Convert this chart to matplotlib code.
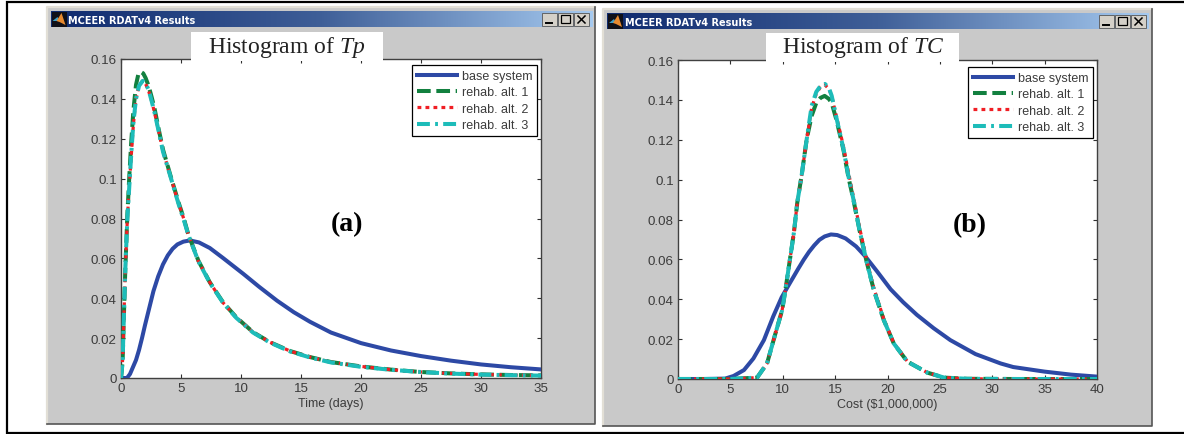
import numpy as np
import matplotlib
matplotlib.use('Agg')
import matplotlib.pyplot as plt
from matplotlib.patches import Rectangle, Polygon

plt.rcParams['font.family'] = ['Liberation Sans', 'DejaVu Sans']
plt.rcParams['mathtext.fontset'] = 'custom'
plt.rcParams['mathtext.rm'] = 'Liberation Serif'
plt.rcParams['mathtext.it'] = 'Liberation Serif:italic'

# values
labels = ['base system', 'rehab. alt. 1', 'rehab. alt. 2', 'rehab. alt. 3']
window_title = 'MCEER RDATv4 Results'

# panel (a), time
tp_base_x = [0, 0.5, 0.75, 1, 1.25, 1.5, 1.75, 2, 2.35, 2.7, 3.1, 3.5, 3.9, 4.3, 4.7, 5.2, 5.75, 6.5,
             7.4, 8.5, 10.2, 11.5, 13, 14.4, 15.75, 17.5, 20, 22.5, 25, 27.5, 30, 32.5, 35]
tp_base_y = [0, 0, 0.002, 0.0055, 0.009, 0.014, 0.02, 0.0265, 0.035, 0.0435, 0.051, 0.057, 0.0615, 0.0648,
             0.067, 0.0684, 0.069, 0.068, 0.0652, 0.0602, 0.0522, 0.0458, 0.0388, 0.033, 0.0282, 0.0228,
             0.0175, 0.0138, 0.011, 0.0087, 0.0068, 0.0054, 0.0043]
tp_alt1_x = [0, 0.07, 0.14, 0.25, 0.36, 0.53, 0.7, 0.85, 1.03, 1.25, 1.45, 1.64, 1.85, 2.05, 2.3, 2.55, 2.8,
             3.15, 3.5, 4.1, 4.8, 5.25, 5.6, 6.45, 7.4, 8.5, 9.6, 11, 12.4, 14.1, 15.75, 17.5, 20, 22.5, 25,
             27.5, 30, 32.5, 35]
tp_alt1_y = [0, 0.004, 0.0097, 0.033, 0.0547, 0.082, 0.102, 0.118, 0.134, 0.147, 0.1525, 0.1536, 0.1528, 0.1505,
             0.1465, 0.141, 0.135, 0.1245, 0.1146, 0.102, 0.088, 0.0797, 0.0722, 0.0588, 0.048, 0.038, 0.0305,
             0.023, 0.018, 0.0135, 0.0105, 0.008, 0.0058, 0.0042, 0.003, 0.0023, 0.0018, 0.0015, 0.0013]
tp_alt2_x = [0, 0.07, 0.14, 0.25, 0.36, 0.53, 0.7, 0.85, 1.03, 1.25, 1.5, 1.8, 2.05, 2.3, 2.55, 2.8,
             3.15, 3.5, 4.1, 4.8, 5.25, 5.6, 6.45, 7.4, 8.5, 9.6, 11, 12.4, 14.1, 15.75, 17.5, 20, 22.5, 25,
             27.5, 30, 32.5, 35]
tp_alt2_y = [0, 0.004, 0.0095, 0.032, 0.054, 0.08, 0.097, 0.111, 0.127, 0.14, 0.1465, 0.149, 0.1475,
             0.144, 0.139, 0.133, 0.1235, 0.114, 0.1015, 0.0875, 0.0795, 0.072, 0.0585, 0.048, 0.0378, 0.0305,
             0.023, 0.018, 0.0135, 0.0105, 0.008, 0.0058, 0.0042, 0.003, 0.0023, 0.0018, 0.0015, 0.0012]
tp_alt3_x = [0, 0.07, 0.14, 0.25, 0.36, 0.53, 0.7, 0.85, 1.03, 1.25, 1.5, 1.8, 2.05, 2.3, 2.55, 2.8,
             3.15, 3.5, 4.1, 4.8, 5.25, 5.6, 6.45, 7.4, 8.5, 9.6, 11, 12.4, 14.1, 15.75, 17.5, 20, 22.5, 25,
             27.5, 30, 32.5, 35]
tp_alt3_y = [0, 0.004, 0.0097, 0.033, 0.055, 0.08, 0.097, 0.112, 0.128, 0.14, 0.1465, 0.149, 0.1478,
             0.1445, 0.139, 0.133, 0.1235, 0.1135, 0.1015, 0.0872, 0.079, 0.072, 0.0585, 0.0478, 0.0378, 0.0302,
             0.0228, 0.0178, 0.0133, 0.0103, 0.0078, 0.0056, 0.0041, 0.003, 0.0022, 0.0017, 0.0014, 0.0012]

# panel (b), cost
tc_base_x = [0, 2.5, 4.5, 5.3, 6.3, 7.2, 8.2, 9.1, 9.9, 10.5, 11, 11.5, 12, 12.5, 13, 13.5, 14, 14.6, 15.2,
             16, 17, 17.85, 19, 20.3, 21.5, 22.8, 24.4, 26, 28.4, 30.8, 32, 35, 37.5, 40]
tc_base_y = [0, 0, 0.0002, 0.0015, 0.0045, 0.0103, 0.0195, 0.0315, 0.041, 0.0465, 0.051, 0.0555, 0.0598, 0.0637,
             0.067, 0.0698, 0.0715, 0.0725, 0.0722, 0.0705, 0.0665, 0.0617, 0.054, 0.045, 0.0385, 0.0322,
             0.0255, 0.0195, 0.0125, 0.0078, 0.006, 0.0037, 0.0022, 0.0012]
tc_alt1_x = [0, 5, 7.55, 8.5, 9.3, 9.94, 10.25, 11.07, 11.39, 11.8, 12.29, 12.76, 13.2, 13.6, 14, 14.4, 14.67,
             15.15, 15.8, 16.26, 16.74, 17.37, 18, 18.7, 19.65, 20.6, 21.9, 23.8, 25.4, 27.6, 32, 40]
tc_alt1_y = [0, 0, 0.0007, 0.0078, 0.0228, 0.0345, 0.0445, 0.0736, 0.0886, 0.102, 0.1204, 0.132, 0.1385, 0.141,
             0.142, 0.1405, 0.1385, 0.1295, 0.1148, 0.1015, 0.09, 0.0736, 0.059, 0.0445, 0.0295, 0.0178, 0.0087,
             0.0032, 0.0007, 0.0001, 0, 0]
tc_alt2_x = [0, 5, 7.55, 8.5, 9.3, 9.94, 10.25, 11.07, 11.39, 11.8, 12.29, 12.76, 13.2, 13.6, 14.03, 14.4, 14.67,
             15.15, 15.8, 16.26, 16.74, 17.37, 18, 18.7, 19.65, 20.6, 21.9, 23.8, 25.4, 27.6, 32, 40]
tc_alt2_y = [0, 0, 0.0007, 0.0078, 0.0228, 0.0345, 0.0445, 0.0736, 0.0886, 0.102, 0.1204, 0.136, 0.143, 0.1465,
             0.1475, 0.1455, 0.142, 0.1312, 0.1165, 0.104, 0.0915, 0.075, 0.06, 0.0455, 0.03, 0.018, 0.0088,
             0.0032, 0.0007, 0.0001, 0, 0]
tc_alt3_x = [0, 5, 7.55, 8.5, 9.3, 9.94, 10.25, 11.07, 11.39, 11.8, 12.29, 12.76, 13.2, 13.6, 14.03, 14.4, 14.67,
             15.15, 15.8, 16.26, 16.74, 17.37, 18, 18.7, 19.65, 20.6, 21.9, 23.8, 25.4, 27.6, 32, 40]
tc_alt3_y = [0, 0, 0.0007, 0.0078, 0.0228, 0.0345, 0.0445, 0.0736, 0.0886, 0.102, 0.1204, 0.137, 0.144, 0.147,
             0.148, 0.146, 0.1421, 0.1304, 0.1153, 0.102, 0.0903, 0.0736, 0.059, 0.0445, 0.0295, 0.0178, 0.0087,
             0.0032, 0.0007, 0.0001, 0, 0]

y_ticks = [0, 0.02, 0.04, 0.06, 0.08, 0.1, 0.12, 0.14, 0.16]
y_ticklabels = ['0', '0.02', '0.04', '0.06', '0.08', '0.1', '0.12', '0.14', '0.16']

W, H = 1184, 435
fig = plt.figure(figsize=(W / 100, H / 100), dpi=100, facecolor='white')

def pixel_axes(x0, y0, x1, y1, z):
    return fig.add_axes([x0 / W, 1 - y1 / H, (x1 - x0) / W, (y1 - y0) / H], zorder=z)

# background: page frame and the two windows, in pixels
bg = pixel_axes(0, 0, W, H, 0)
bg.set_xlim(0, W)
bg.set_ylim(H, 0)
bg.axis('off')
bg.plot([W, 6.5, 6.5, W], [3, 3, 434, 434], color='black', lw=1.6, solid_joinstyle='miter')

grad = np.linspace(0, 1, 256).reshape(1, -1)
bar_cmap = matplotlib.colors.LinearSegmentedColormap.from_list('bar', ['#0f2a6e', '#3f5f98', '#a6caf0'])

def draw_window(x0, y0, x1, y1):
    bg.add_patch(Rectangle((x0, y0), x1 - x0, y1 - y0, fc='#c9c9c9', ec='none'))
    bg.plot([x0, x0, x1], [y1, y0, y0], color='#e2dfd6', lw=1.6)
    bg.plot([x0, x1, x1], [y1, y1, y0], color='#555555', lw=1.2)
    bg.imshow(grad, extent=(x0 + 4, x1 - 3, y0 + 20, y0 + 4), aspect='auto', cmap=bar_cmap, zorder=1)
    # icon
    bg.add_patch(Rectangle((x0 + 5, y0 + 5), 15, 15, fc='#101018', ec='none', zorder=2))
    bg.add_patch(Polygon([[x0 + 6, y0 + 14], [x0 + 11, y0 + 10], [x0 + 13, y0 + 14]],
                         fc='#3fa0c8', ec='none', zorder=3))
    bg.add_patch(Polygon([[x0 + 10, y0 + 14], [x0 + 15, y0 + 6], [x0 + 19, y0 + 18], [x0 + 13, y0 + 15]],
                         fc='#e88a30', ec='none', zorder=3))
    bg.text(x0 + 22, y0 + 12.5, window_title, color='white', fontsize=7.0, fontweight='bold',
            family='DejaVu Sans', va='center', ha='left', zorder=3)
    # min, max, close buttons
    for i, sym in enumerate(['min', 'max', 'x']):
        bx = x1 - 53 + i * 16
        bg.add_patch(Rectangle((bx, y0 + 6), 15, 13, fc='#d4d0c8', ec='#555555', lw=0.6, zorder=3))
        if sym == 'min':
            bg.plot([bx + 4, bx + 10], [y0 + 15.5, y0 + 15.5], color='black', lw=1.4, zorder=4)
        elif sym == 'max':
            bg.add_patch(Rectangle((bx + 3, y0 + 8), 9, 8, fc='none', ec='black', lw=0.9, zorder=4))
        else:
            bg.plot([bx + 4, bx + 11], [y0 + 9, y0 + 16], color='black', lw=1.1, zorder=4)
            bg.plot([bx + 4, bx + 11], [y0 + 16, y0 + 9], color='black', lw=1.1, zorder=4)

draw_window(46.5, 8, 595, 425)
draw_window(603, 10, 1152, 427)
bg.set_xlim(0, W)
bg.set_ylim(H, 0)

colors = ['#2d49a5', '#12803f', '#f01e24', '#1dbcb9']
styles = ['-', (0, (3.4, 1.4)), (0, (1.2, 1.3)), (0, (3.2, 1.3, 0.7, 1.3))]
widths = [2.9, 2.9, 2.3, 2.9]

def panel(box, legend_box, series, xmax, xticks, xlabel):
    ax = pixel_axes(*box, 1)
    for (x, y), c, s, w, l in zip(series, colors, styles, widths, labels):
        # above the spines, the reference curves cover the zero line
        ax.plot(x, y, color=c, linestyle=s, lw=w, label=l, dash_capstyle='butt', zorder=3)
    ax.set_xlim(0, xmax)
    ax.set_ylim(0, 0.16)
    ax.set_xticks(xticks)
    ax.set_yticks(y_ticks)
    ax.set_yticklabels(y_ticklabels)
    ax.tick_params(direction='in', top=True, right=True, length=3, width=0.8, color='#303030',
                   labelcolor='#3c3c3c', labelsize=9.6, pad=3)
    ax.set_xlabel(xlabel, fontsize=9, color='#3c3c3c', labelpad=2)
    for sp in ax.spines.values():
        sp.set_color('#404040')
        sp.set_linewidth(1.0)
    # legend placed by pixel box
    x0, y0, x1, y1 = box
    lx0, ly0, lx1, ly1 = legend_box
    anchor = ((lx1 - x0) / (x1 - x0), 1 - (ly0 - y0) / (y1 - y0))
    leg = ax.legend(loc='upper right', bbox_to_anchor=anchor, borderaxespad=0, fancybox=False, framealpha=1,
                    edgecolor='black', fontsize=9, handlelength=3.2, handletextpad=0.4,
                    labelspacing=0.35, borderpad=0.4, labelcolor='#3c3c3c')
    leg.get_frame().set_linewidth(0.9)
    leg.set_zorder(6)
    return ax

panel((121, 60, 541, 379), (407, 66, 537, 141),
      [(tp_base_x, tp_base_y), (tp_alt1_x, tp_alt1_y), (tp_alt2_x, tp_alt2_y), (tp_alt3_x, tp_alt3_y)],
      35, list(range(0, 36, 5)), 'Time (days)')
panel((678, 61, 1097, 380), (964, 68, 1093, 143),
      [(tc_base_x, tc_base_y), (tc_alt1_x, tc_alt1_y), (tc_alt2_x, tc_alt2_y), (tc_alt3_x, tc_alt3_y)],
      40, list(range(0, 41, 5)), 'Cost ($1,000,000)')

# white title patches pasted over the windows, and panel letters
top = pixel_axes(0, 0, W, H, 5)
top.set_xlim(0, W)
top.set_ylim(H, 0)
top.axis('off')
top.patch.set_alpha(0)
top.add_patch(Rectangle((191, 33), 192, 29, fc='white', ec='none'))
top.add_patch(Rectangle((766, 34), 193, 29, fc='white', ec='none'))
serif = 'Liberation Serif'
top.text(287, 47, r'Histogram of $\mathit{Tp}$', family=serif, fontsize=17, color='#222222', ha='center', va='center')
top.text(863, 48, r'Histogram of $\mathit{TC}$', family=serif, fontsize=17, color='#222222', ha='center', va='center')
top.text(347, 225, '(a)', family=serif, fontsize=20, fontweight='bold', color='black', ha='center', va='center')
top.text(970, 226, '(b)', family=serif, fontsize=20, fontweight='bold', color='black', ha='center', va='center')

fig.savefig('out.png', dpi=100)
